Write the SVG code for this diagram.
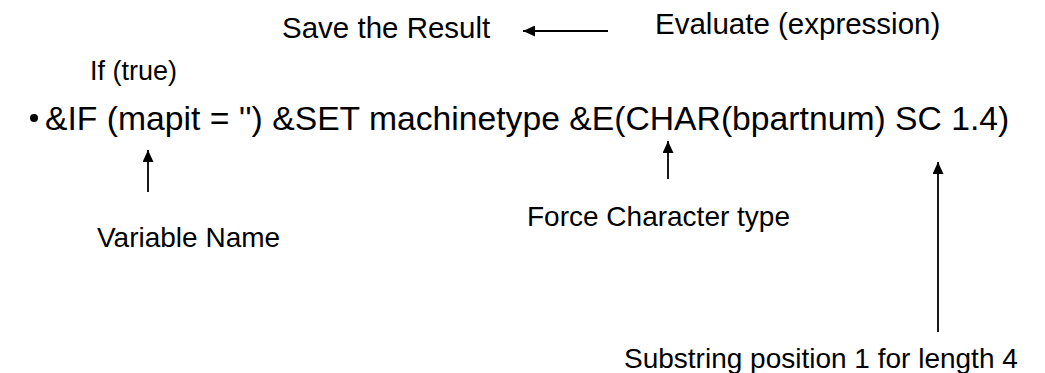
<svg xmlns="http://www.w3.org/2000/svg" width="1045" height="373" viewBox="0 0 1045 373">
<style>
text{font-family:"Liberation Sans",Arial,sans-serif;fill:#000}
.top{font-size:29.5px}
.lbl{font-size:28px}
.sm{font-size:27px}
.main{font-size:33.7px}
.c{stroke:#000;stroke-width:1.8;fill:none}
</style>
<defs>
<marker id="ah" markerUnits="userSpaceOnUse" markerWidth="14" markerHeight="11" refX="12" refY="5.5" orient="auto">
<path d="M0,0 L12,5.5 L0,11 Z" fill="#000"/>
</marker>
</defs>
<rect width="1045" height="373" fill="#fff"/>
<g id="save"><text class="top" x="282" y="38">Save the Result</text></g>
<g id="evaluate"><text class="top" x="655" y="34">Evaluate (expression)</text></g>
<g id="iftrue"><text class="sm" x="90" y="80">If (true)</text></g>
<g id="statement"><circle cx="34" cy="118" r="4" fill="#000"/><text class="main" x="45" y="130">&amp;IF (mapit = '') &amp;SET machinetype &amp;E(CHAR(bpartnum) SC 1.4)</text></g>
<g id="varname"><text class="lbl" x="97" y="247">Variable Name</text></g>
<g id="force"><text class="lbl" x="527" y="226">Force Character type</text></g>
<g id="substr"><text class="lbl" x="624" y="368">Substring position 1 for length 4</text></g>
<g id="connectors">
<line class="c" x1="608" y1="31" x2="523" y2="31" marker-end="url(#ah)"/>
<line class="c" x1="148" y1="192" x2="148" y2="150" marker-end="url(#ah)"/>
<line class="c" x1="668" y1="179" x2="668" y2="141" marker-end="url(#ah)"/>
<line class="c" x1="938" y1="332" x2="938" y2="162" marker-end="url(#ah)"/>
</g>
</svg>
